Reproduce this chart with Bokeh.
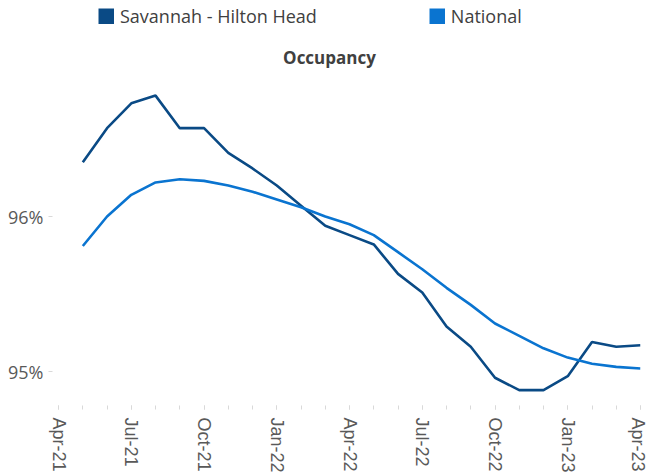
from bokeh.plotting import figure
from bokeh.models import (ColumnDataSource, FixedTicker, Legend, LegendItem, Label,
                          Range1d, PrintfTickFormatter)
from bokeh.embed import file_html
from bokeh.resources import INLINE

# ---- data ----
months = ["May-21", "Jun-21", "Jul-21", "Aug-21", "Sep-21", "Oct-21", "Nov-21", "Dec-21",
          "Jan-22", "Feb-22", "Mar-22", "Apr-22", "May-22", "Jun-22", "Jul-22", "Aug-22",
          "Sep-22", "Oct-22", "Nov-22", "Dec-22", "Jan-23", "Feb-23", "Mar-23", "Apr-23"]
month_index = list(range(1, 25))  # months after Apr-21
savannah = [96.35, 96.57, 96.73, 96.78, 96.57, 96.57, 96.41, 96.31,
            96.20, 96.07, 95.94, 95.88, 95.82, 95.63, 95.51, 95.29,
            95.16, 94.96, 94.88, 94.88, 94.97, 95.19, 95.16, 95.17]
national = [95.81, 96.00, 96.14, 96.22, 96.24, 96.23, 96.20, 96.16,
            96.11, 96.06, 96.00, 95.95, 95.88, 95.77, 95.66, 95.54,
            95.43, 95.31, 95.23, 95.15, 95.09, 95.05, 95.03, 95.02]
tick_positions = [0, 3, 6, 9, 12, 15, 18, 21, 24]
tick_labels = ["Apr-21", "Jul-21", "Oct-21", "Jan-22", "Apr-22", "Jul-22", "Oct-22", "Jan-23", "Apr-23"]
y_ticks = [95, 96]
series_names = ["Savannah - Hilton Head", "National"]
title_text = "Occupancy"

C_SAV = "#0a4a85"
C_NAT = "#0a74d0"
TXT = "#404040"
AX = "#595959"

p = figure(width=647, height=475, output_backend="svg", toolbar_location=None,
           x_range=Range1d(-0.25, 24.0), y_range=Range1d(94.781, 97.3935),
           min_border_left=52, min_border_right=7, min_border_top=0, min_border_bottom=70)
p.title = None
p.outline_line_color = None
p.xgrid.visible = False
p.ygrid.visible = False
p.background_fill_color = "white"
p.border_fill_color = "white"

src = ColumnDataSource(dict(x=month_index, m=months, sav=savannah, nat=national))
p.line("x", "sav", source=src, line_color=C_SAV, line_width=2.6)
p.line("x", "nat", source=src, line_color=C_NAT, line_width=2.6)

# x axis
xa = p.xaxis[0]
xa.ticker = FixedTicker(ticks=tick_positions, minor_ticks=list(range(0, 25)))
xa.major_label_overrides = {t: l for t, l in zip(tick_positions, tick_labels)}
xa.major_label_orientation = "vertical"
xa.axis_line_color = None
xa.major_tick_line_color = "#d9d9d9"
xa.minor_tick_line_color = "#d9d9d9"
xa.major_tick_out = 4
xa.major_tick_in = 0
xa.minor_tick_out = 4
xa.minor_tick_in = 0
xa.major_label_standoff = 8
xa.major_label_text_font = "Liberation Sans"
xa.major_label_text_font_size = "18px"
xa.major_label_text_color = AX

# y axis
ya = p.yaxis[0]
ya.ticker = FixedTicker(ticks=y_ticks)
ya.formatter = PrintfTickFormatter(format="%d%%")
ya.axis_line_color = None
ya.major_tick_line_color = "#d9d9d9"
ya.minor_tick_line_color = None
ya.major_tick_out = 4
ya.major_tick_in = 0
ya.major_label_standoff = 5
ya.major_label_text_font = "Open Sans"
ya.major_label_text_font_size = "18px"
ya.major_label_text_color = AX

# legend with square swatches (thick, butt-capped lines give square glyphs);
# the proxy renderers hold a single NaN so nothing is drawn in the plot area
nan = float("nan")
proxy = ColumnDataSource(dict(x=[nan], y=[nan]))
q1 = p.line("x", "y", source=proxy, line_color=C_SAV, line_width=16, line_cap="butt")
q2 = p.line("x", "y", source=proxy, line_color=C_NAT, line_width=16, line_cap="butt")
legend = Legend(items=[LegendItem(label=series_names[0], renderers=[q1]),
                       LegendItem(label=series_names[1], renderers=[q2])],
                orientation="horizontal", location=(46, 377), spacing=112,
                glyph_width=16, glyph_height=16, label_standoff=6, label_height=16,
                label_text_font="Open Sans", label_text_font_size="18px",
                label_text_color=TXT, padding=0, margin=0,
                border_line_alpha=0, background_fill_alpha=0)
p.add_layout(legend, "center")

title = Label(x=277, y=348, x_units="screen", y_units="screen", text=title_text,
              text_align="center", text_baseline="alphabetic",
              text_font="Open Sans", text_font_style="bold", text_font_size="17px",
              text_color=TXT)
p.add_layout(title)

open("out.html", "w").write(file_html(p, INLINE))
